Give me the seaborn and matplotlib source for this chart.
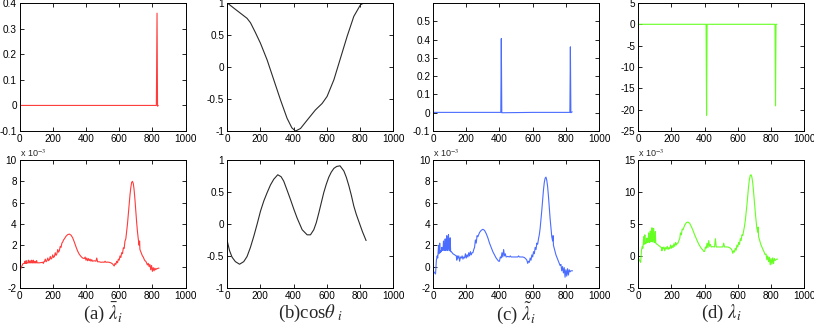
import numpy as np
import matplotlib
matplotlib.use("Agg")
import matplotlib.pyplot as plt
from matplotlib.ticker import FuncFormatter
import seaborn as sns

# top row (raw scale)
top_a_x = [1, 200, 400, 600, 824, 828, 831, 835]
top_a_y = [0, 0, 0, 0, 0, 0.36, -0.003, 0.0]

top_b_x = [1, 40, 80, 120, 141, 170, 201, 241, 281, 321, 361, 390, 412,
           442, 482, 532, 572, 602, 643, 683, 723, 763, 803, 823, 840]
top_b_y = [1.0, 0.92, 0.84, 0.76, 0.69, 0.54, 0.37, 0.11, -0.2, -0.51, -0.8, -0.95, -1.0,
           -0.96, -0.83, -0.67, -0.57, -0.46, -0.2, 0.14, 0.48, 0.79, 0.97, 1.0, 1.0]

top_c_x = [1, 200, 408, 411, 414, 600, 824, 827, 830, 838]
top_c_y = [0.002, 0.002, 0.002, 0.405, 0.0, 0.002, 0.002, 0.36, 0.0, 0.005]

top_d_x = [1, 200, 409, 412, 415, 600, 824, 827, 830, 835]
top_d_y = [0, 0, 0, -21.3, 0, 0, 0, -19.1, 0, 0]

# bottom row, noisy series share one index grid (values in units of 1e-3)
bot_x = [1, 5, 10, 15, 18, 20, 25, 28, 30, 33,
         35, 38, 40, 43, 46, 50, 53, 56, 60, 63,
         66, 70, 73, 76, 80, 83, 86, 90, 93, 96,
         100, 103, 106, 110, 115, 120, 130, 140, 143, 146,
         150, 155, 160, 165, 170, 175, 180, 185, 190, 195,
         200, 205, 210, 215, 220, 225, 230, 235, 240, 245,
         250, 255, 260, 265, 270, 280, 290, 300, 310, 320,
         330, 340, 350, 360, 370, 380, 390, 395, 400, 405,
         410, 415, 420, 425, 430, 435, 440, 450, 460, 465,
         470, 480, 490, 500, 510, 515, 520, 530, 540, 550,
         560, 565, 570, 575, 580, 585, 590, 595, 600, 605,
         610, 615, 620, 625, 630, 635, 640, 645, 650, 655,
         660, 665, 670, 675, 680, 685, 690, 695, 700, 705,
         710, 715, 720, 723, 725, 730, 735, 740, 745, 750,
         755, 760, 765, 770, 775, 780, 785, 790, 795, 800,
         805, 810, 815, 820, 825, 830, 835, 840]

bot_a_y = [-0.2, -0.3, -0.1, 0.1, 0.2, 0.25, 0.3, 0.3, 0.3, 0.5,
           0.3, 0.3, 0.55, 0.3, 0.35, 0.35, 0.6, 0.35, 0.35, 0.55,
           0.35, 0.35, 0.6, 0.35, 0.35, 0.6, 0.35, 0.35, 0.5, 0.35,
           0.35, 0.55, 0.35, 0.35, 0.35, 0.35, 0.38, 0.4, 0.3, 0.45,
           0.45, 0.7, 0.45, 0.55, 0.8, 0.55, 0.65, 0.95, 0.7, 0.8,
           1.1, 0.85, 0.95, 1.3, 1.05, 1.2, 1.6, 1.35, 1.5, 1.9,
           1.8, 2.2, 2.3, 2.5, 2.6, 2.85, 3.0, 3.05, 2.95, 2.7,
           2.3, 1.85, 1.45, 1.15, 0.95, 0.8, 0.75, 0.9, 0.6, 0.8,
           0.55, 0.75, 0.55, 0.7, 0.5, 0.65, 0.5, 0.55, 0.5, 0.8,
           0.45, 0.45, 0.4, 0.42, 0.4, 0.5, 0.4, 0.42, 0.4, 0.35,
           0.25, 0.15, 0.05, 0.3, 0.2, 0.5, 0.35, 0.7, 0.6, 1.0,
           0.85, 1.3, 1.2, 1.75, 1.7, 2.4, 2.6, 3.3, 4.0, 4.9,
           5.8, 6.7, 7.4, 7.9, 8.0, 7.8, 7.2, 6.3, 5.2, 4.2,
           3.3, 2.6, 2.0, 2.4, 1.6, 1.4, 1.2, 1.0, 0.9, 0.7,
           0.55, 0.5, 0.35, 0.15, 0.3, 0.0, 0.2, -0.3, 0.1, -0.45,
           -0.1, -0.4, -0.15, -0.3, -0.2, -0.2, -0.15, -0.15]

bot_c_y = [-0.4, -0.5, -0.6, -0.7, 0.2, 0.6, 1.0, 0.8, 1.2, 2.0,
           1.2, 1.4, 2.2, 1.3, 1.5, 1.4, 1.8, 1.5, 1.6, 2.4,
           1.5, 1.6, 2.6, 1.5, 1.6, 2.9, 1.5, 1.7, 3.0, 1.5,
           1.5, 2.7, 1.4, 1.4, 1.3, 1.2, 1.1, 1.0, 0.6, 1.0,
           0.8, 1.0, 0.5, 0.9, 0.8, 1.0, 0.7, 0.9, 0.8, 1.2,
           0.8, 1.1, 0.9, 1.3, 1.0, 1.4, 1.1, 1.3, 1.3, 1.6,
           1.8, 2.5, 2.2, 2.9, 2.8, 3.2, 3.4, 3.5, 3.4, 3.1,
           2.7, 2.2, 1.8, 1.4, 1.1, 0.8, 0.6, 0.5, 0.5, 0.9,
           0.8, 1.3, 0.9, 1.6, 1.0, 1.2, 0.9, 0.95, 0.9, 1.0,
           0.9, 0.9, 0.9, 0.9, 0.9, 1.0, 0.9, 0.9, 0.9, 0.85,
           0.7, 0.6, 0.3, 0.5, 0.4, 0.8, 0.6, 1.1, 0.9, 1.4,
           1.2, 1.8, 1.6, 2.2, 2.1, 2.6, 3.0, 3.6, 4.4, 5.3,
           6.3, 7.2, 7.9, 8.3, 8.4, 8.1, 7.5, 6.6, 5.5, 4.5,
           3.6, 2.8, 2.4, 2.9, 2.0, 1.7, 1.4, 1.1, 0.9, 0.7,
           0.5, 0.3, 0.1, 0.2, -0.4, 0.0, -0.6, -0.1, -1.0, -0.3,
           -0.9, -0.2, -0.8, -0.3, -0.5, -0.4, -0.4, -0.4]

bot_d_y = [-0.3, -0.5, -0.8, -1.0, 0.3, 0.9, 1.5, 1.2, 1.8, 3.0,
           1.8, 2.0, 3.3, 1.9, 2.1, 2.0, 2.8, 2.1, 2.2, 3.6,
           2.1, 2.2, 3.9, 2.2, 2.3, 4.4, 2.2, 2.4, 4.3, 2.1,
           2.1, 3.8, 2.0, 1.9, 1.8, 1.7, 1.5, 1.3, 0.8, 1.3,
           1.1, 1.4, 0.8, 1.3, 1.1, 1.5, 1.0, 1.3, 1.1, 1.7,
           1.2, 1.6, 1.3, 1.9, 1.5, 2.1, 1.7, 2.0, 2.0, 2.4,
           2.7, 3.6, 3.3, 4.2, 4.1, 4.8, 5.2, 5.3, 5.1, 4.6,
           4.0, 3.3, 2.7, 2.1, 1.6, 1.2, 0.9, 0.7, 0.7, 1.4,
           1.2, 2.0, 1.3, 2.4, 1.5, 1.8, 1.4, 1.45, 1.4, 2.7,
           1.4, 1.4, 1.4, 1.4, 1.4, 2.0, 1.4, 1.4, 1.4, 1.3,
           1.1, 0.9, 0.4, 0.8, 0.6, 1.2, 0.9, 1.7, 1.4, 2.1,
           1.8, 2.7, 2.4, 3.3, 3.2, 3.9, 4.6, 5.5, 6.7, 8.0,
           9.5, 10.9, 12.0, 12.6, 12.7, 12.3, 11.4, 10.0, 8.4, 6.9,
           5.5, 4.3, 3.7, 4.5, 3.0, 2.6, 2.1, 1.7, 1.4, 1.1,
           0.8, 0.5, 0.2, 0.3, -0.6, 0.0, -0.9, -0.2, -1.4, -0.4,
           -1.3, -0.3, -1.2, -0.4, -0.7, -0.6, -0.5, -0.5]

bot_b_x = [1, 15, 30, 50, 75, 100, 120, 140, 161, 181,
           201, 221, 241, 261, 281, 305, 325, 341, 361, 382,
           402, 422, 452, 482, 502, 522, 537, 552, 567, 582,
           597, 612, 627, 643, 660, 680, 703, 718, 733, 748,
           763, 778, 793, 815, 837]
bot_b_y = [-0.27, -0.42, -0.52, -0.59, -0.63, -0.59, -0.51, -0.37, -0.19, 0.0,
           0.2, 0.36, 0.49, 0.61, 0.7, 0.77, 0.74, 0.67, 0.53, 0.38,
           0.23, 0.09, -0.09, -0.17, -0.17, -0.09, 0.02, 0.17, 0.33, 0.49,
           0.62, 0.73, 0.81, 0.87, 0.9, 0.91, 0.83, 0.73, 0.6, 0.45,
           0.28, 0.15, 0.04, -0.12, -0.26]

captions = [r"(a) $\bar{\lambda}_i$", r"(b)cos$\theta_{\ i}$",
            r"(c) $\tilde{\lambda}_i$", r"(d) $\lambda_i$"]

red, dark, blue, green = "#ff3b3b", "#2b2b2b", "#4a6cff", "#66ff22"

sns.set_theme(style="white")
plt.rcParams["font.family"] = ["Liberation Sans", "DejaVu Sans"]
plt.rcParams["mathtext.fontset"] = "stix"
plt.rcParams["axes.unicode_minus"] = False

fig = plt.figure(figsize=(8.14, 3.26), dpi=100)

lefts = [0.024, 0.279, 0.532, 0.784]
w = 0.204
top_row = [
    (top_a_x, top_a_y, red, (-0.1, 0.4), [-0.1, 0, 0.1, 0.2, 0.3, 0.4]),
    (top_b_x, top_b_y, dark, (-1, 1), [-1, -0.5, 0, 0.5, 1]),
    (top_c_x, top_c_y, blue, (-0.1, 0.6), [-0.1, 0, 0.1, 0.2, 0.3, 0.4, 0.5]),
    (top_d_x, top_d_y, green, (-25, 5), [-25, -20, -15, -10, -5, 0, 5]),
]
bot_row = [
    (bot_x, bot_a_y, red, (-2, 10), [-2, 0, 2, 4, 6, 8, 10], True),
    (bot_b_x, bot_b_y, dark, (-1, 1), [-1, -0.5, 0, 0.5, 1], False),
    (bot_x, bot_c_y, blue, (-2, 10), [-2, 0, 2, 4, 6, 8, 10], True),
    (bot_x, bot_d_y, green, (-5, 15), [-5, 0, 5, 10, 15], True),
]

fmt = FuncFormatter(lambda v, p: "%g" % v)


def style(ax, ylim, yticks):
    ax.set_xlim(0, 1000)
    ax.set_ylim(*ylim)
    ax.set_xticks([0, 200, 400, 600, 800, 1000])
    ax.set_yticks(yticks)
    ax.yaxis.set_major_formatter(fmt)
    ax.tick_params(direction="in", length=3, width=0.6, top=True, right=True,
                   bottom=True, left=True, labelsize=7.2, pad=2, colors="black")
    for s in ax.spines.values():
        s.set_color("black")
        s.set_linewidth(0.7)
    ax.set_xlabel("")
    ax.set_ylabel("")


for i in range(4):
    x, y, c, ylim, yt = top_row[i]
    ax = fig.add_axes([lefts[i], 0.598, w, 0.393])
    sns.lineplot(x=x, y=y, color=c, linewidth=0.8, estimator=None, sort=False, ax=ax)
    style(ax, ylim, yt)

    x, y, c, ylim, yt, scaled = bot_row[i]
    ax = fig.add_axes([lefts[i], 0.117, w, 0.392])
    sns.lineplot(x=x, y=y, color=c, linewidth=0.8, estimator=None, sort=False, ax=ax)
    style(ax, ylim, yt)
    if scaled:
        ax.text(0.0, 1.005, r"x 10$^{-3}$", transform=ax.transAxes,
                ha="left", va="bottom", fontsize=6.5)
    fig.text(lefts[i] + w / 2, 0.04, captions[i], ha="center", va="center",
             fontsize=13.5, family=["Liberation Serif", "DejaVu Serif"])

fig.savefig("out.png", dpi=100)
